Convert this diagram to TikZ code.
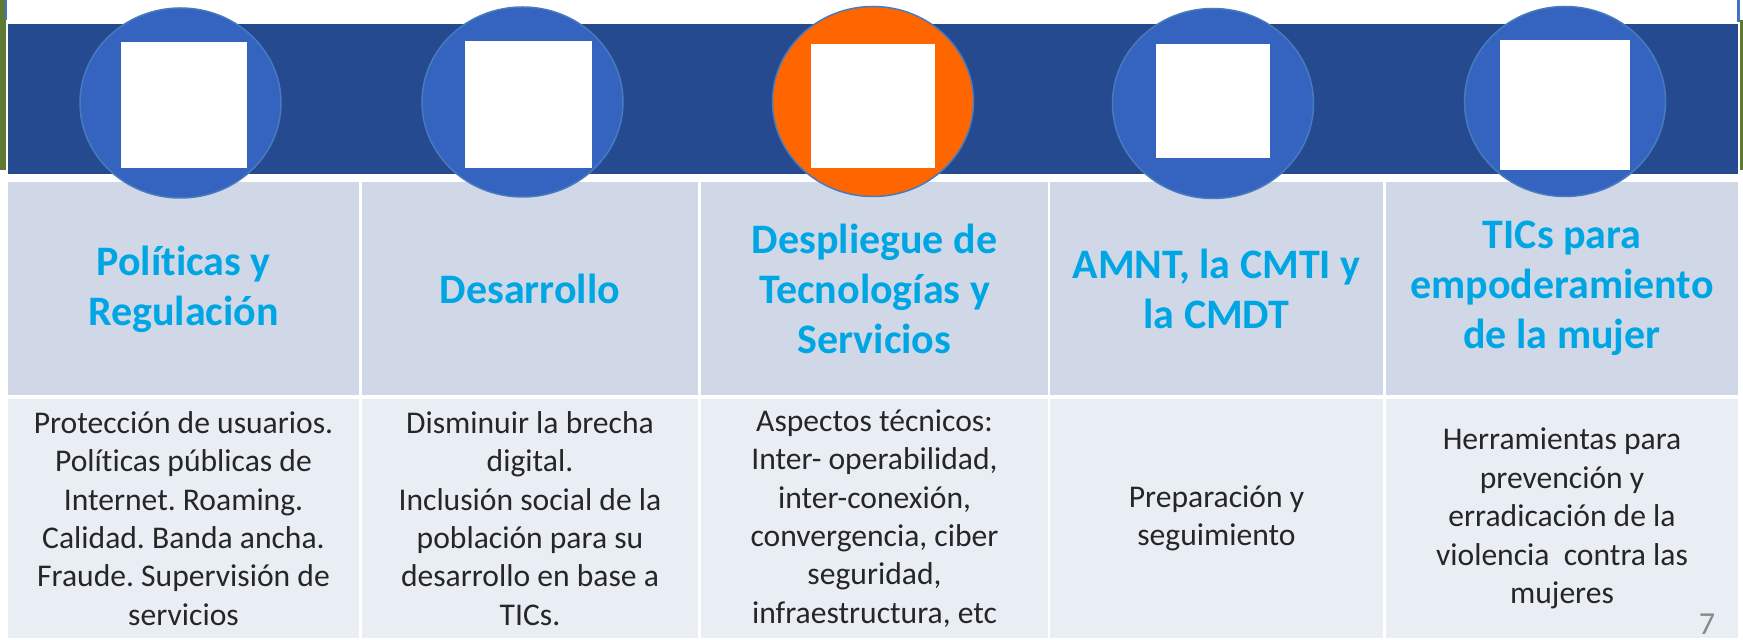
\documentclass[tikz,border=0pt]{standalone}
\usepackage{fontspec}
\setmainfont[Ligatures=NoCommon]{Carlito}
\frenchspacing
\usetikzlibrary{shapes.geometric}
\definecolor{band}{RGB}{37,74,144}
\definecolor{badgeblue}{RGB}{52,100,192}
\definecolor{badgeline}{RGB}{72,122,190}
\definecolor{badgeorange}{RGB}{255,102,0}
\definecolor{headfill}{RGB}{208,216,232}
\definecolor{bodyfill}{RGB}{233,237,244}
\definecolor{headtext}{RGB}{0,166,228}
\definecolor{bodytext}{RGB}{38,38,38}
\definecolor{photo}{RGB}{94,122,50}
\definecolor{edgeblue}{RGB}{68,114,196}
\definecolor{pagenum}{RGB}{137,137,137}
\tikzstyle{badge}=[ellipse, draw=badgeline, line width=0.75pt, fill=badgeblue, minimum width=100.5pt, minimum height=95pt, inner sep=0pt]
\tikzstyle{icon}=[fill=white, inner sep=0pt]
\tikzstyle{heading}=[fill=headfill, minimum height=106.5pt, inner sep=0pt, align=center, text=headtext, font=\fontsize{21}{25}\selectfont\bfseries]
\tikzstyle{detail}=[fill=bodyfill, minimum height=119.5pt, inner sep=0pt, align=center, text=bodytext, font=\fontsize{15.8}{19.2}\selectfont]

\begin{document}
\begin{tikzpicture}[x=0.5pt, y=-0.5pt]
  \useasboundingbox[fill=white] (0,0) rectangle (1743,640);

  % photo edges and band
  \fill[photo] (0,0) rectangle (6,170);
  \fill[edgeblue] (5,0) rectangle (7,20);
  \fill[photo] (1740,20) rectangle (1743,170);
  \fill[edgeblue] (1737,0) rectangle (1740,22);
  \fill[band] (8,24) rectangle (1738,174);

  % header row
  \node[heading, minimum width=175.5pt] (head_pol) at (183.5, 289) {Políticas y\\Regulación};
  \node[heading, minimum width=168pt] (head_des) at (530, 288.5) {Desarrollo};
  \node[heading, minimum width=173.5pt] (head_tec) at (874.5, 288.5) {Despliegue de\\Tecnologías y\\Servicios};
  \node[heading, minimum width=166.5pt] (head_amn) at (1216.5, 288.5) {AMNT, la CMTI y\\la CMDT};
  \node[heading, minimum width=176pt] (head_tic) at (1562, 288.5) {TICs para\\empoderamiento\\de la mujer};

  % body row
  \node[detail, minimum width=175.5pt] (text_pol) at (183.5, 518.5)
    {Protección de usuarios.\\Políticas públicas de\\Internet. Roaming.\\Calidad. Banda ancha.\\Fraude. Supervisión de\\servicios};
  \node[detail, minimum width=168pt] (text_des) at (530, 518.5)
    {Disminuir la brecha\\digital.\\Inclusión social de la\\población para su\\desarrollo en base a\\TICs.};
  \node[detail, minimum width=173.5pt] (text_tec) at (874.5, 518.5)
    {Aspectos técnicos:\\Inter- operabilidad,\\inter-conexión,\\convergencia, ciber\\seguridad,\\infraestructura, etc};
  \node[detail, minimum width=166.5pt] (text_amn) at (1216.5, 518.5)
    {Preparación y\\seguimiento};
  \node[detail, minimum width=176pt] (text_tic) at (1562, 518.5)
    {Herramientas para\\prevención y\\erradicación de la\\violencia\ \ contra las\\mujeres};

  % badges
  \node[badge] (circle_pol) at (180.5, 103) {};
  \node[badge] (circle_des) at (522.5, 102) {};
  \node[badge, fill=badgeorange] (circle_tec) at (873, 101.5) {};
  \node[badge] (circle_amn) at (1213, 103.5) {};
  \node[badge] (circle_tic) at (1565, 101.5) {};

  \node[icon, minimum size=63pt] (icon_pol) at (184, 105) {};
  \node[icon, minimum size=63.5pt] (icon_des) at (528.5, 105) {};
  \node[icon, minimum size=62pt] (icon_tec) at (873, 106.5) {};
  \node[icon, minimum size=57pt] (icon_amn) at (1213, 101) {};
  \node[icon, minimum size=65pt] (icon_tic) at (1565, 105.5) {};

  \node[text=pagenum, font=\fontsize{16}{18}\selectfont, inner sep=0pt] (page) at (1707, 624) {7};
\end{tikzpicture}
\end{document}
